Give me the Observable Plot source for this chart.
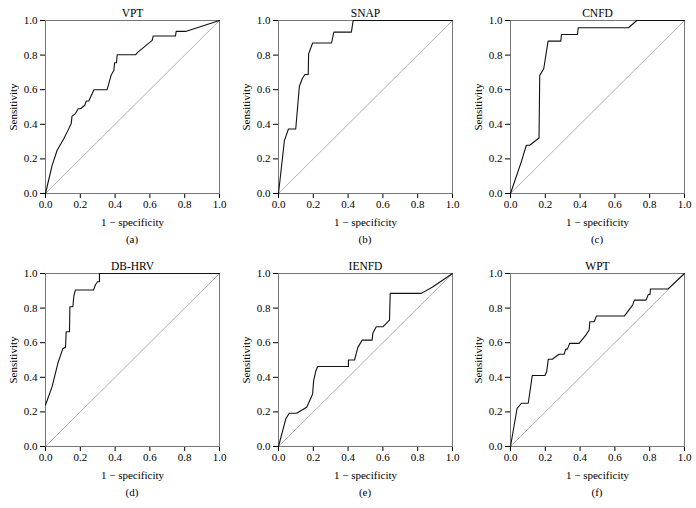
<!DOCTYPE html>
<html><head><meta charset="utf-8">
<script src="https://cdn.jsdelivr.net/npm/d3@7"></script>
<script src="https://cdn.jsdelivr.net/npm/@observablehq/plot@0.6"></script>
<style>
body{margin:0;background:#fff;font-family:"Liberation Serif",serif;}
#wrap{position:relative;width:696px;height:508px;overflow:hidden;}
.panel{position:absolute;width:232px;height:255px;}
.panel svg{font-family:"Liberation Serif",serif !important;}
.panel svg text{font-weight:normal;}
.cap{position:absolute;left:45px;width:174px;top:233px;text-align:center;font-size:11px;color:#000;}
</style></head>
<body><div id="wrap"></div>
<script>
// ---- data ----
const titles = ["VPT", "SNAP", "CNFD", "DB-HRV", "IENFD", "WPT"];
const captions = ["(a)", "(b)", "(c)", "(d)", "(e)", "(f)"];
const tickValues = [0, 0.2, 0.4, 0.6, 0.8, 1.0];
const diagX = [0, 1];
const diagY = [0, 1];

const vptX = [0, 0.038, 0.067, 0.105, 0.134, 0.148, 0.152, 0.172, 0.182, 0.188, 0.201, 0.226, 0.234, 0.249, 0.259, 0.268, 0.278, 0.354, 0.377, 0.393, 0.397, 0.408, 0.412, 0.517, 0.531, 0.613, 0.619, 0.747, 0.751, 0.805, 1];
const vptY = [0, 0.163, 0.25, 0.317, 0.375, 0.404, 0.446, 0.462, 0.48, 0.49, 0.49, 0.51, 0.535, 0.535, 0.558, 0.577, 0.6, 0.6, 0.683, 0.712, 0.756, 0.756, 0.802, 0.802, 0.817, 0.885, 0.91, 0.91, 0.937, 0.937, 1];

const snapX = [0, 0.034, 0.057, 0.099, 0.12, 0.137, 0.152, 0.171, 0.173, 0.196, 0.305, 0.318, 0.419, 0.429, 1];
const snapY = [0, 0.306, 0.373, 0.373, 0.62, 0.665, 0.688, 0.688, 0.807, 0.87, 0.87, 0.933, 0.933, 1, 1];

const cnfdX = [0, 0.062, 0.091, 0.11, 0.164, 0.168, 0.191, 0.216, 0.289, 0.293, 0.385, 0.389, 0.678, 0.726, 1];
const cnfdY = [0, 0.183, 0.279, 0.279, 0.321, 0.683, 0.721, 0.881, 0.881, 0.919, 0.919, 0.958, 0.958, 1, 1];

const hrvX = [0, 0.038, 0.071, 0.1, 0.115, 0.119, 0.138, 0.14, 0.157, 0.163, 0.172, 0.276, 0.287, 0.299, 0.31, 0.31, 1];
const hrvY = [0.24, 0.346, 0.481, 0.567, 0.573, 0.663, 0.663, 0.808, 0.808, 0.87, 0.905, 0.905, 0.935, 0.952, 0.952, 1, 1];

const ienfdX = [0, 0.042, 0.062, 0.104, 0.138, 0.162, 0.181, 0.196, 0.202, 0.215, 0.225, 0.402, 0.402, 0.437, 0.456, 0.481, 0.538, 0.542, 0.562, 0.6, 0.638, 0.642, 0.821, 0.888, 1];
const ienfdY = [0, 0.16, 0.192, 0.192, 0.212, 0.227, 0.269, 0.304, 0.381, 0.438, 0.462, 0.462, 0.5, 0.5, 0.573, 0.615, 0.615, 0.654, 0.692, 0.692, 0.731, 0.885, 0.885, 0.923, 1];

const wptX = [0, 0.038, 0.063, 0.102, 0.125, 0.198, 0.208, 0.217, 0.24, 0.279, 0.308, 0.317, 0.327, 0.34, 0.394, 0.433, 0.452, 0.456, 0.481, 0.494, 0.654, 0.702, 0.712, 0.779, 0.792, 0.802, 0.804, 0.904, 1];
const wptY = [0, 0.221, 0.25, 0.25, 0.41, 0.41, 0.433, 0.504, 0.504, 0.533, 0.533, 0.563, 0.563, 0.596, 0.596, 0.644, 0.673, 0.721, 0.721, 0.754, 0.754, 0.817, 0.846, 0.846, 0.879, 0.879, 0.91, 0.91, 1];

const seriesX = [vptX, snapX, cnfdX, hrvX, ienfdX, wptX];
const seriesY = [vptY, snapY, cnfdY, hrvY, ienfdY, wptY];
const panelLeft = [0, 233, 465, 0, 233, 465];
const panelTop = [0, 0, 0, 253, 253, 253];

const wrap = document.getElementById("wrap");
const fmt = d3.format(".1f");
for (let i = 0; i < 6; i++) {
  const pts = seriesX[i].map((x, j) => ({x, y: seriesY[i][j]}));
  const diag = diagX.map((x, j) => ({x, y: diagY[j]}));
  const chart = Plot.plot({
    width: 232, height: 230,
    marginLeft: 45, marginRight: 13, marginTop: 20, marginBottom: 37,
    style: {fontFamily: "Liberation Serif, serif", fontSize: "11px", color: "#000", background: "transparent", overflow: "visible"},
    x: {domain: [0, 1], ticks: tickValues, tickFormat: fmt, tickSize: 5, tickPadding: 2, line: true, label: "1 − specificity", labelAnchor: "center", labelOffset: 32, labelArrow: "none"},
    y: {domain: [0, 1], ticks: tickValues, tickFormat: fmt, tickSize: 5, tickPadding: 3, line: true, label: "Sensitivity", labelAnchor: "center", labelOffset: 36, labelArrow: "none"},
    marks: [
      Plot.line(diag, {x: "x", y: "y", stroke: "#b0b0b0", strokeWidth: 1}),
      Plot.frame({stroke: "#777", strokeWidth: 1}),
      Plot.line(pts, {x: "x", y: "y", stroke: "#111", strokeWidth: 1.1}),
      Plot.text([titles[i]], {text: d => d, frameAnchor: "top", dy: -4, lineAnchor: "bottom", fontSize: 11.5, fontWeight: "normal"})
    ]
  });
  const div = document.createElement("div");
  div.className = "panel";
  div.style.left = panelLeft[i] + "px";
  div.style.top = panelTop[i] + "px";
  div.appendChild(chart);
  const cap = document.createElement("div");
  cap.className = "cap";
  cap.textContent = captions[i];
  div.appendChild(cap);
  wrap.appendChild(div);
}
</script>
</body></html>
